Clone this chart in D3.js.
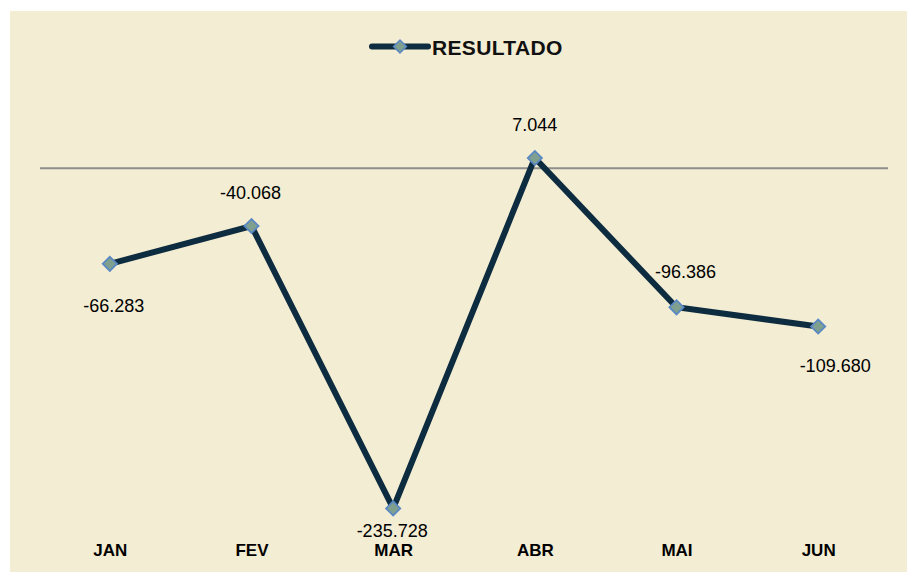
<!DOCTYPE html>
<html>
<head>
<meta charset="utf-8">
<script src="https://cdn.jsdelivr.net/npm/d3@7"></script>
<style>
  html, body { margin: 0; padding: 0; background: #ffffff; }
  svg { display: block; }
  text { font-family: "Liberation Sans", Arial, sans-serif; }
</style>
</head>
<body>
<svg id="chart" width="907" height="572"></svg>
<script>
// ---- data ----
const categories = ["JAN", "FEV", "MAR", "ABR", "MAI", "JUN"];
const resultado = [-66.283, -40.068, -235.728, 7.044, -96.386, -109.680];
const valueLabels = ["-66.283", "-40.068", "-235.728", "7.044", "-96.386", "-109.680"];
const seriesName = "RESULTADO";
const yDomain = [-250, 50];

// ---- label placement (style, not data) ----
const labelDx = [4, -1, -1, 0, 9, 17];
const labelDy = [48, -27, 29, -27, -29, 46];

// ---- layout ----
const W = 907, H = 572;
const plot = { left: 39, right: 889, top: 96, bottom: 529 };
const svg = d3.select("#chart");

svg.append("rect").attr("x", 10).attr("y", 11).attr("width", W - 10).attr("height", H - 11)
  .attr("fill", "#F3EDD3");

const x = d3.scalePoint().domain(categories).range([plot.left, plot.right]).padding(0.5);
const y = d3.scaleLinear().domain(yDomain).range([plot.bottom, plot.top]);

// zero line
svg.append("line")
  .attr("x1", 40).attr("x2", 888)
  .attr("y1", y(0)).attr("y2", y(0))
  .attr("stroke", "#8E8E8C").attr("stroke-width", 2);

// category labels
const xAxis = d3.axisBottom(x).tickSize(0).tickPadding(0);
const gx = svg.append("g").attr("transform", "translate(0,541)").call(xAxis);
gx.select(".domain").remove();
gx.selectAll("text")
  .attr("font-family", "Liberation Sans, Arial, sans-serif")
  .attr("font-size", 17).attr("font-weight", "bold").attr("fill", "#000")
  .attr("dy", "0.88em");

const pts = categories.map((c, i) => ({ c, v: resultado[i], lab: valueLabels[i], dx: labelDx[i], dy: labelDy[i] }));

// line
const line = d3.line().x(d => x(d.c)).y(d => y(d.v));
svg.append("path").datum(pts).attr("d", line)
  .attr("fill", "none").attr("stroke", "#0E2C3F").attr("stroke-width", 6)
  .attr("stroke-linejoin", "miter").attr("stroke-linecap", "butt");

// markers
svg.selectAll(".mk").data(pts).enter().append("rect")
  .attr("class", "mk")
  .attr("x", -5).attr("y", -5).attr("width", 10).attr("height", 10)
  .attr("transform", d => `translate(${x(d.c)},${y(d.v)}) rotate(45)`)
  .attr("fill", "#7FA08F").attr("stroke", "#5A88C4").attr("stroke-width", 1.8);

// data labels
svg.selectAll(".dl").data(pts).enter().append("text")
  .attr("class", "dl")
  .attr("x", d => x(d.c) + d.dx)
  .attr("y", d => y(d.v) + d.dy)
  .attr("text-anchor", "middle")
  .attr("font-size", 18).attr("fill", "#000")
  .text(d => d.lab);

// legend
const lg = svg.append("g");
lg.append("line").attr("x1", 372).attr("x2", 428).attr("y1", 46.5).attr("y2", 46.5)
  .attr("stroke", "#0E2C3F").attr("stroke-width", 6).attr("stroke-linecap", "round");
lg.append("rect").attr("x", -4.5).attr("y", -4.5).attr("width", 9).attr("height", 9)
  .attr("transform", "translate(400,46.5) rotate(45)")
  .attr("fill", "#7FA08F").attr("stroke", "#5A88C4").attr("stroke-width", 1.6);
lg.append("text").attr("x", 432).attr("y", 54.5)
  .attr("font-size", 21).attr("font-weight", "bold").attr("fill", "#111")
  .attr("letter-spacing", 0.35)
  .text(seriesName);
</script>
</body>
</html>
